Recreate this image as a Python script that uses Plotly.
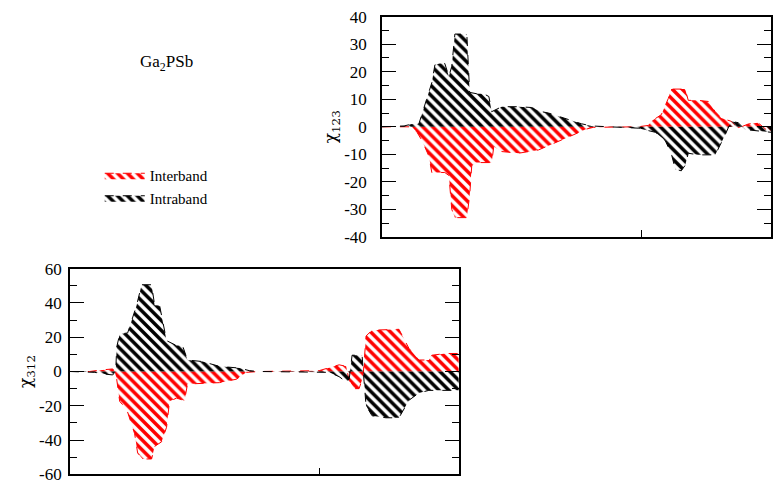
import plotly.graph_objects as go

# --- chi_123 (upper panel) ---
e_123_inter = [0, 0.65, 1.15, 1.35, 1.54, 1.81, 1.92, 2.42, 2.58, 2.69, 2.81, 3.27, 3.38, 3.46,
               3.58, 4.23, 4.31, 4.62, 5.27, 6.04, 6.81, 7.46, 7.85, 8.15, 9.88, 10.27, 10.38,
               10.77, 11.04, 11.15, 11.69, 11.81, 12.19, 12.58, 12.85, 13.08, 13.46, 13.73,
               14.12, 14.5, 14.81, 15.0]
chi_123_inter = [0, 0, 0, -2, -5, -10.7, -16.6, -16.6, -17.7, -30, -33, -33, -25, -14.2,
                 -13, -13, -7.2, -9, -9.6, -8.4, -5.4, -2.6, -0.9, -0.2, 0, 0.5, 2,
                 4.4, 10.3, 13.7, 13.7, 9.6, 9.6, 9.2, 5.5, 3.2, 2, -0.5,
                 1, 1.5, -1, -2]

e_123_intra = [0, 0.85, 1.15, 1.42, 1.65, 1.92, 2.04, 2.23, 2.42, 2.58, 2.69, 2.81, 3.27,
               3.38, 3.65, 3.92, 4.12, 4.23, 4.62, 5.27, 5.77, 6.15, 6.42, 7.19, 7.69, 8.08,
               9.88, 10.54, 10.92, 11.15, 11.31, 11.54, 11.69, 11.81, 12.19, 12.85, 13.08,
               13.23, 13.46, 13.73, 14.0, 14.5, 15.0]
chi_123_intra = [0, 0.3, 1, 1, 7.9, 16, 22.5, 23, 23, 18.3, 22, 33.7, 33.7,
                 12.5, 12, 12, 11, 5.5, 7.3, 7.3, 7, 5.5, 5, 2.6, 1.1, 0.3,
                 -0.5, -2, -5, -9.6, -15.4, -16, -14, -9.6, -10.2, -10.2, -6,
                 -3, 2, 1.5, -1, -1.5, -2]

# --- chi_312 (lower panel) ---
e_312_inter = [0, 0.8, 1.2, 1.72, 1.8, 1.88, 2.0, 2.28, 2.6, 2.72, 2.92, 3.28, 3.4, 3.68,
               3.88, 4.0, 4.28, 4.6, 4.72, 5.2, 6.0, 6.68, 7.08, 7.6, 10.0, 10.8, 11.08,
               11.2, 11.4, 11.6, 11.76, 11.88, 12.12, 13.2, 13.6, 14.0, 14.4, 14.52, 15.08, 15.6]
chi_312_inter = [0, 0, 0.8, 1.5, 0, -4.5, -17.4, -22, -36.3, -47.5, -51, -51, -43.7, -41,
                 -32.5, -17.4, -15.5, -17, -7.3, -7, -6.5, -4.5, -0.5, 0, 0.5, 3.9, 3,
                 -5, -10, -10, -3, 20.7, 24.1, 24.6, 13.5, 6.7, 6.7, 9.5, 10.5, 10.5]

e_312_intra = [0, 1.0, 1.4, 1.72, 1.84, 1.88, 2.0, 2.32, 2.68, 2.88, 3.28, 3.4, 3.6, 3.88,
               4.28, 4.52, 4.72, 5.32, 6.0, 6.8, 7.2, 7.6, 10.4, 10.8, 11.08, 11.2, 11.32,
               11.72, 11.8, 11.88, 12.12, 12.68, 13.2, 13.6, 14.0, 14.4, 15.6]
chi_312_intra = [0, -0.5, -1.5, -2, 0, 14.2, 21.8, 22.5, 38.7, 50.6, 50.6, 38.7, 38.5, 18,
                 15.1, 15.1, 6.7, 5.8, 3, 2, 0.5, 0, -0.5, -3, -6, -5, 9.5,
                 9.5, -5.6, -20, -25.8, -27, -27, -16.8, -12.5, -11, -11]

# Tick values and their printed labels (plain hyphen minus)
ticks_123 = [-40, -30, -20, -10, 0, 10, 20, 30, 40]
labels_123 = ["-40", "-30", "-20", "-10", "0", "10", "20", "30", "40"]
ticks_312 = [-60, -40, -20, 0, 20, 40, 60]
labels_312 = ["-60", "-40", "-20", "0", "20", "40", "60"]

series_names = ["Interband", "Intraband"]
series_colors = ["red", "black"]

SERIF = "Liberation Serif"

fig = go.Figure()


def add_band(x, y, name, color, xaxis, yaxis, show):
    fig.add_trace(go.Scatter(
        x=x, y=y, name=name, mode="lines",
        line=dict(color=color, width=1, dash="dash"),
        fill="tozeroy",
        fillpattern=dict(shape="\\", fgcolor=color, fgopacity=1, bgcolor="rgba(255,255,255,0)",
                         size=7, solidity=0.5),
        xaxis=xaxis, yaxis=yaxis, showlegend=show, legendgroup=name,
    ))


add_band(e_123_inter, chi_123_inter, series_names[0], series_colors[0], "x", "y", True)
add_band(e_123_intra, chi_123_intra, series_names[1], series_colors[1], "x", "y", True)
add_band(e_312_inter, chi_312_inter, series_names[0], series_colors[0], "x2", "y2", False)
add_band(e_312_intra, chi_312_intra, series_names[1], series_colors[1], "x2", "y2", False)

W, H = 773, 494


def px_x(p):
    return p / W


def px_y(p):
    return 1 - p / H


xcommon = dict(showgrid=False, zeroline=False, showline=True, linecolor="black", linewidth=1.5,
               mirror=True, ticks="inside", ticklen=7, tickcolor="black", showticklabels=False,
               tickvals=[10])
ycommon = dict(showgrid=False, zeroline=False, showline=True, linecolor="black", linewidth=1.5,
               mirror="ticks", ticks="inside", ticklen=14, tickcolor="black",
               tickfont=dict(family=SERIF, size=17, color="black"))

CHI_FONT = dict(family="DejaVu Serif", size=17, color="black")

fig.update_layout(
    width=W, height=H, margin=dict(l=0, r=0, t=0, b=0),
    paper_bgcolor="white", plot_bgcolor="white",
    showlegend=True,
    legend=dict(x=px_x(100), y=px_y(156), xanchor="left", yanchor="top",
                font=dict(family=SERIF, size=15, color="black"),
                bgcolor="rgba(0,0,0,0)", tracegroupgap=0, itemwidth=40),
    xaxis=dict(domain=[px_x(383), 1.0], range=[0, 15], anchor="y", **xcommon),
    yaxis=dict(domain=[px_y(237), px_y(8)], range=[-40, 40], anchor="x",
               tickvals=ticks_123, ticktext=labels_123,
               minor=dict(dtick=5, ticks="inside", ticklen=7, tickcolor="black"),
               ticklabelstandoff=10,
               title=dict(text="χ<sub>123</sub>", font=CHI_FONT, standoff=3),
               **ycommon),
    xaxis2=dict(domain=[px_x(70), px_x(460)], range=[0, 15.6], anchor="y2", **xcommon),
    yaxis2=dict(domain=[px_y(484), px_y(270)], range=[-60, 60], anchor="x2",
                tickvals=ticks_312, ticktext=labels_312,
                minor=dict(dtick=10, ticks="inside", ticklen=7, tickcolor="black"),
                ticklabelstandoff=3,
                title=dict(text="χ<sub>312</sub>", font=CHI_FONT, standoff=3),
                **ycommon),
    annotations=[dict(text="Ga<sub>2</sub>PSb", x=px_x(167), y=px_y(56), xref="paper", yref="paper",
                      xanchor="center", yanchor="middle",
                      showarrow=False, font=dict(family=SERIF, size=17, color="black"))],
)

fig.write_html("out.html")
